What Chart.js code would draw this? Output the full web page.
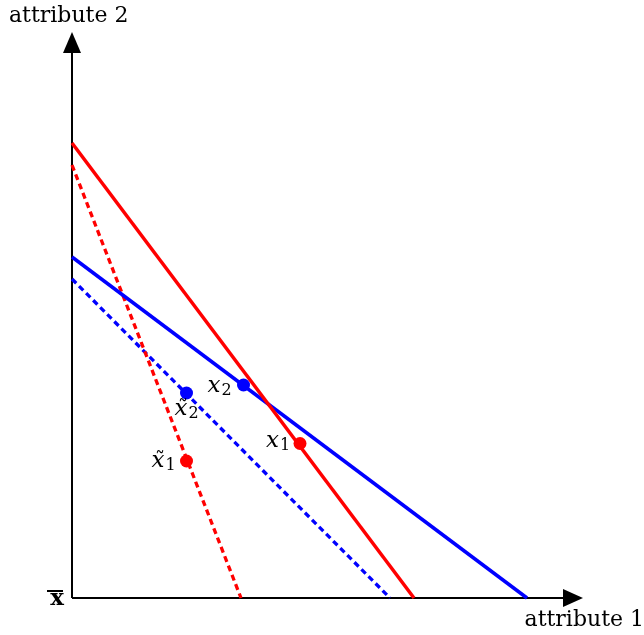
<!doctype html>
<html>
<head>
    <meta charset="utf-8">
    <title>Attributes</title>
    <script src="https://cdn.jsdelivr.net/npm/chart.js"></script>
    <style>
        body { margin: 0; background: #fff; }
    </style>
</head>
<body>
    <canvas id="grafico" width="644" height="635"></canvas>

    <script>
    // values in plot units, origin at the corner of the axes
    const linhaVermelha = [{x: 0, y: 9.1}, {x: 6.84, y: 0}];
    const linhaAzul = [{x: 0, y: 6.82}, {x: 9.1, y: 0}];
    const linhaVermelhaTil = [{x: 0, y: 8.66}, {x: 3.38, y: 0}];
    const linhaAzulTil = [{x: 0, y: 6.38}, {x: 6.36, y: 0}];

    const pontosVermelhos = [{x: 4.56, y: 3.09}, {x: 2.29, y: 2.74}];
    const pontosAzuis = [{x: 3.43, y: 4.26}, {x: 2.29, y: 4.10}];
    // [subscript, has tilde]
    const nomesVermelhos = [['1', false], ['1', true]];
    const nomesAzuis = [['2', false], ['2', true]];

    const eixoX = [{x: 0, y: 0}, {x: 9.84, y: 0}];
    const eixoY = [{x: 0, y: 0}, {x: 0, y: 10.9}];
    const FIM_X = 10.22;
    const FIM_Y = 11.32;

    // label offsets (px) relative to each point
    const desvioVermelho = [[-34, 3], [-35, 6]];
    const desvioAzul = [[-36, 7], [-12, 22]];

    const VERMELHO = '#ff0000';
    const AZUL = '#0000ff';

    const textos = {
        id: 'textos',
        afterDatasetsDraw(chart) {
            const ctx = chart.ctx;
            const sx = chart.scales.x, sy = chart.scales.y;
            ctx.save();
            ctx.fillStyle = '#000';

            // arrow heads
            let tx = sx.getPixelForValue(FIM_X), ty = sy.getPixelForValue(0);
            ctx.beginPath();
            ctx.moveTo(tx, ty);
            ctx.lineTo(tx - 20, ty - 9);
            ctx.lineTo(tx - 20, ty + 9);
            ctx.closePath();
            ctx.fill();
            tx = sx.getPixelForValue(0); ty = sy.getPixelForValue(FIM_Y);
            ctx.beginPath();
            ctx.moveTo(tx, ty);
            ctx.lineTo(tx - 9, ty + 21);
            ctx.lineTo(tx + 9, ty + 21);
            ctx.closePath();
            ctx.fill();

            // axis names
            ctx.font = '22px "DejaVu Serif"';
            ctx.textBaseline = 'alphabetic';
            ctx.textAlign = 'left';
            ctx.fillText('attribute 2', 9, 22);
            ctx.textAlign = 'right';
            ctx.fillText('attribute 1', 644, 626);

            // origin label
            const ox = sx.getPixelForValue(0), oy = sy.getPixelForValue(0);
            ctx.font = 'bold 23px "DejaVu Serif"';
            ctx.textAlign = 'right';
            ctx.fillText('x', ox - 8, oy + 7);
            ctx.fillRect(ox - 25, oy - 8, 16, 2);

            // point labels
            function rotulo(p, nome, d) {
                const px = sx.getPixelForValue(p.x) + d[0];
                const py = sy.getPixelForValue(p.y) + d[1];
                ctx.textAlign = 'left';
                ctx.font = 'italic 23px "DejaVu Serif"';
                ctx.fillText('x', px, py);
                const w = ctx.measureText('x').width;
                if (nome[1]) {
                    ctx.font = '20px "DejaVu Serif"';
                    ctx.textAlign = 'center';
                    ctx.fillText('\u02DC', px + w / 2 + 2, py - 1);
                    ctx.textAlign = 'left';
                }
                ctx.font = '16px "DejaVu Serif"';
                ctx.fillText(nome[0], px + w + 1, py + 3);
            }
            pontosVermelhos.forEach((p, i) => rotulo(p, nomesVermelhos[i], desvioVermelho[i]));
            pontosAzuis.forEach((p, i) => rotulo(p, nomesAzuis[i], desvioAzul[i]));
            ctx.restore();
        }
    };

    const grafico = new Chart(document.getElementById('grafico').getContext('2d'), {
        type: 'scatter',
        data: {
            datasets: [
                { data: pontosVermelhos, backgroundColor: VERMELHO, borderWidth: 0, pointRadius: 6.5 },
                { data: pontosAzuis, backgroundColor: AZUL, borderWidth: 0, pointRadius: 6.5 },
                { data: linhaVermelha, showLine: true, borderColor: VERMELHO, borderWidth: 3.5, pointRadius: 0 },
                { data: linhaAzul, showLine: true, borderColor: AZUL, borderWidth: 3.5, pointRadius: 0 },
                { data: linhaVermelhaTil, showLine: true, borderColor: VERMELHO, borderWidth: 3.3, borderDash: [6, 4], pointRadius: 0 },
                { data: linhaAzulTil, showLine: true, borderColor: AZUL, borderWidth: 3.3, borderDash: [6, 4], pointRadius: 0 },
                { data: eixoX, showLine: true, borderColor: '#000', borderWidth: 2, pointRadius: 0 },
                { data: eixoY, showLine: true, borderColor: '#000', borderWidth: 2, pointRadius: 0 }
            ]
        },
        options: {
            responsive: false,
            animation: false,
            layout: { padding: 0, autoPadding: false },
            plugins: {
                legend: { display: false },
                tooltip: { enabled: false }
            },
            scales: {
                x: { type: 'linear', display: false, min: -1.44, max: 11.44 },
                y: { type: 'linear', display: false, min: -0.74, max: 11.96 }
            }
        },
        plugins: [textos]
    });
    </script>
</body>
</html>
